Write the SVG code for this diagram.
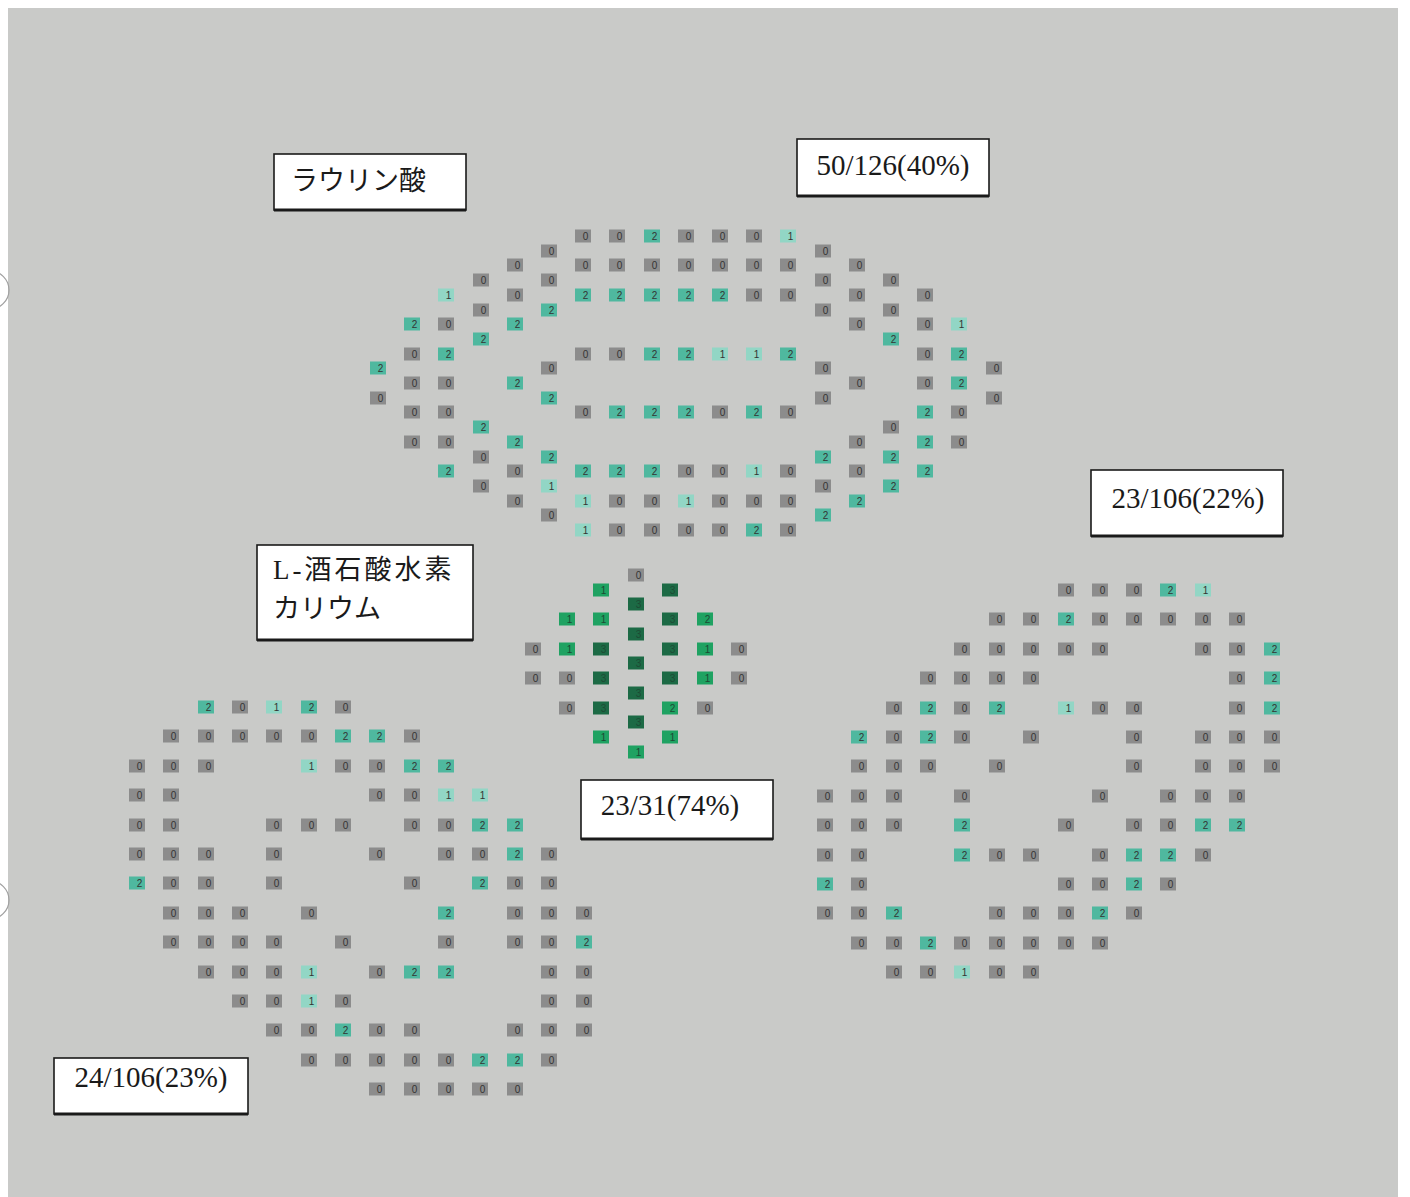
<svg xmlns="http://www.w3.org/2000/svg" xmlns:xlink="http://www.w3.org/1999/xlink" width="1410" height="1197" viewBox="0 0 1410 1197">
<style>
.g{fill:#8c8c8c}.a{fill:#4fb89f}.b{fill:#92d6c5}.m{fill:#1fa262}.d{fill:#1c6a45}
.n{font-family:"Liberation Sans",Arial,sans-serif;font-size:10px;text-anchor:middle;fill:#333}
.nd{font-family:"Liberation Sans",Arial,sans-serif;font-size:10px;text-anchor:middle;fill:#1d4a34}
.lb{fill:#fff;stroke:#1a1a1a;stroke-width:1.6}
.sh{stroke:#1a1a1a;stroke-width:3}
.tx{font-family:"Liberation Serif","Times New Roman",serif;font-size:29px;fill:#1a1a1a}
.jp{font-family:"Liberation Serif","Noto Sans CJK JP",serif;font-size:27px;fill:#1a1a1a}
</style>
<defs>
<g id="z"><rect class="g" x="-8" y="-6.5" width="16" height="13"/><text class="n" x="2.5" y="3.6">0</text></g>
<g id="o"><rect class="b" x="-8" y="-6.5" width="16" height="13"/><text class="n" x="2.5" y="3.6">1</text></g>
<g id="w"><rect class="a" x="-8" y="-6.5" width="16" height="13"/><text class="n" x="2.5" y="3.6">2</text></g>
<g id="p"><rect class="m" x="-8" y="-6.5" width="16" height="13"/><text class="nd" x="2.5" y="3.6">1</text></g>
<g id="q"><rect class="m" x="-8" y="-6.5" width="16" height="13"/><text class="nd" x="2.5" y="3.6">2</text></g>
<g id="k"><rect class="d" x="-8" y="-6.5" width="16" height="13"/><text class="nd" x="2.5" y="3.6">3</text></g>
</defs>
<rect x="0" y="0" width="1410" height="1197" fill="#ffffff"/>
<rect x="8" y="8" width="1390" height="1189" fill="#c9cac8"/>
<circle cx="-10" cy="290" r="19" fill="none" stroke="#a0a0a0" stroke-width="1.2"/>
<circle cx="-10" cy="900" r="19" fill="none" stroke="#a0a0a0" stroke-width="1.2"/>

<g id="cluster-lauric">
<use href="#z" x="583" y="236"/><use href="#z" x="617" y="236"/><use href="#w" x="652" y="236"/><use href="#z" x="686" y="236"/><use href="#z" x="720" y="236"/><use href="#z" x="754" y="236"/><use href="#o" x="788" y="236"/>
<use href="#z" x="549" y="251"/><use href="#z" x="823" y="251"/>
<use href="#z" x="515" y="265"/><use href="#z" x="583" y="265"/><use href="#z" x="617" y="265"/><use href="#z" x="652" y="265"/><use href="#z" x="686" y="265"/><use href="#z" x="720" y="265"/><use href="#z" x="754" y="265"/><use href="#z" x="788" y="265"/><use href="#z" x="857" y="265"/>
<use href="#z" x="481" y="280"/><use href="#z" x="549" y="280"/><use href="#z" x="823" y="280"/><use href="#z" x="891" y="280"/>
<use href="#o" x="446" y="295"/><use href="#z" x="515" y="295"/><use href="#w" x="583" y="295"/><use href="#w" x="617" y="295"/><use href="#w" x="652" y="295"/><use href="#w" x="686" y="295"/><use href="#w" x="720" y="295"/><use href="#z" x="754" y="295"/><use href="#z" x="788" y="295"/><use href="#z" x="857" y="295"/><use href="#z" x="925" y="295"/>
<use href="#z" x="481" y="310"/><use href="#w" x="549" y="310"/><use href="#z" x="823" y="310"/><use href="#z" x="891" y="310"/>
<use href="#w" x="412" y="324"/><use href="#z" x="446" y="324"/><use href="#w" x="515" y="324"/><use href="#z" x="857" y="324"/><use href="#z" x="925" y="324"/><use href="#o" x="959" y="324"/>
<use href="#w" x="481" y="339"/><use href="#w" x="891" y="339"/>
<use href="#z" x="412" y="354"/><use href="#w" x="446" y="354"/><use href="#z" x="583" y="354"/><use href="#z" x="617" y="354"/><use href="#w" x="652" y="354"/><use href="#w" x="686" y="354"/><use href="#o" x="720" y="354"/><use href="#o" x="754" y="354"/><use href="#w" x="788" y="354"/><use href="#z" x="925" y="354"/><use href="#w" x="959" y="354"/>
<use href="#w" x="378" y="368"/><use href="#z" x="549" y="368"/><use href="#z" x="823" y="368"/><use href="#z" x="994" y="368"/>
<use href="#z" x="412" y="383"/><use href="#z" x="446" y="383"/><use href="#w" x="515" y="383"/><use href="#z" x="857" y="383"/><use href="#z" x="925" y="383"/><use href="#w" x="959" y="383"/>
<use href="#z" x="378" y="398"/><use href="#w" x="549" y="398"/><use href="#z" x="823" y="398"/><use href="#z" x="994" y="398"/>
<use href="#z" x="412" y="412"/><use href="#z" x="446" y="412"/><use href="#z" x="583" y="412"/><use href="#w" x="617" y="412"/><use href="#w" x="652" y="412"/><use href="#w" x="686" y="412"/><use href="#z" x="720" y="412"/><use href="#w" x="754" y="412"/><use href="#z" x="788" y="412"/><use href="#w" x="925" y="412"/><use href="#z" x="959" y="412"/>
<use href="#w" x="481" y="427"/><use href="#z" x="891" y="427"/>
<use href="#z" x="412" y="442"/><use href="#z" x="446" y="442"/><use href="#w" x="515" y="442"/><use href="#z" x="857" y="442"/><use href="#w" x="925" y="442"/><use href="#z" x="959" y="442"/>
<use href="#z" x="481" y="457"/><use href="#w" x="549" y="457"/><use href="#w" x="823" y="457"/><use href="#w" x="891" y="457"/>
<use href="#w" x="446" y="471"/><use href="#z" x="515" y="471"/><use href="#w" x="583" y="471"/><use href="#w" x="617" y="471"/><use href="#w" x="652" y="471"/><use href="#z" x="686" y="471"/><use href="#z" x="720" y="471"/><use href="#o" x="754" y="471"/><use href="#z" x="788" y="471"/><use href="#z" x="857" y="471"/><use href="#w" x="925" y="471"/>
<use href="#z" x="481" y="486"/><use href="#o" x="549" y="486"/><use href="#z" x="823" y="486"/><use href="#w" x="891" y="486"/>
<use href="#z" x="515" y="501"/><use href="#o" x="583" y="501"/><use href="#z" x="617" y="501"/><use href="#z" x="652" y="501"/><use href="#o" x="686" y="501"/><use href="#z" x="720" y="501"/><use href="#z" x="754" y="501"/><use href="#z" x="788" y="501"/><use href="#w" x="857" y="501"/>
<use href="#z" x="549" y="515"/><use href="#w" x="823" y="515"/>
<use href="#o" x="583" y="530"/><use href="#z" x="617" y="530"/><use href="#z" x="652" y="530"/><use href="#z" x="686" y="530"/><use href="#z" x="720" y="530"/><use href="#w" x="754" y="530"/><use href="#z" x="788" y="530"/>
</g>

<g id="cluster-tartrate">
<use href="#z" x="636" y="575"/>
<use href="#p" x="601" y="590"/><use href="#k" x="670" y="590"/>
<use href="#k" x="636" y="604"/>
<use href="#p" x="567" y="619"/><use href="#p" x="601" y="619"/><use href="#k" x="670" y="619"/><use href="#q" x="705" y="619"/>
<use href="#k" x="636" y="634"/>
<use href="#z" x="533" y="649"/><use href="#p" x="567" y="649"/><use href="#k" x="601" y="649"/><use href="#k" x="670" y="649"/><use href="#p" x="705" y="649"/><use href="#z" x="739" y="649"/>
<use href="#k" x="636" y="663"/>
<use href="#z" x="533" y="678"/><use href="#z" x="567" y="678"/><use href="#k" x="601" y="678"/><use href="#k" x="670" y="678"/><use href="#p" x="705" y="678"/><use href="#z" x="739" y="678"/>
<use href="#k" x="636" y="693"/>
<use href="#z" x="567" y="708"/><use href="#k" x="601" y="708"/><use href="#q" x="670" y="708"/><use href="#z" x="705" y="708"/>
<use href="#k" x="636" y="722"/>
<use href="#p" x="601" y="737"/><use href="#p" x="670" y="737"/>
<use href="#p" x="636" y="752"/>
</g>

<g id="cluster-left">
<use href="#w" x="206" y="707"/><use href="#z" x="240" y="707"/><use href="#o" x="274" y="707"/><use href="#w" x="309" y="707"/><use href="#z" x="343" y="707"/>
<use href="#z" x="171" y="736"/><use href="#z" x="206" y="736"/><use href="#z" x="240" y="736"/><use href="#z" x="274" y="736"/><use href="#z" x="309" y="736"/><use href="#w" x="343" y="736"/><use href="#w" x="377" y="736"/><use href="#z" x="412" y="736"/>
<use href="#z" x="137" y="766"/><use href="#z" x="171" y="766"/><use href="#z" x="206" y="766"/><use href="#o" x="309" y="766"/><use href="#z" x="343" y="766"/><use href="#z" x="377" y="766"/><use href="#w" x="412" y="766"/><use href="#w" x="446" y="766"/>
<use href="#z" x="137" y="795"/><use href="#z" x="171" y="795"/><use href="#z" x="377" y="795"/><use href="#z" x="412" y="795"/><use href="#o" x="446" y="795"/><use href="#o" x="480" y="795"/>
<use href="#z" x="137" y="825"/><use href="#z" x="171" y="825"/><use href="#z" x="274" y="825"/><use href="#z" x="309" y="825"/><use href="#z" x="343" y="825"/><use href="#z" x="412" y="825"/><use href="#z" x="446" y="825"/><use href="#w" x="480" y="825"/><use href="#w" x="515" y="825"/>
<use href="#z" x="137" y="854"/><use href="#z" x="171" y="854"/><use href="#z" x="206" y="854"/><use href="#z" x="274" y="854"/><use href="#z" x="377" y="854"/><use href="#z" x="446" y="854"/><use href="#z" x="480" y="854"/><use href="#w" x="515" y="854"/><use href="#z" x="549" y="854"/>
<use href="#w" x="137" y="883"/><use href="#z" x="171" y="883"/><use href="#z" x="206" y="883"/><use href="#z" x="274" y="883"/><use href="#z" x="412" y="883"/><use href="#w" x="480" y="883"/><use href="#z" x="515" y="883"/><use href="#z" x="549" y="883"/>
<use href="#z" x="171" y="913"/><use href="#z" x="206" y="913"/><use href="#z" x="240" y="913"/><use href="#z" x="309" y="913"/><use href="#w" x="446" y="913"/><use href="#z" x="515" y="913"/><use href="#z" x="549" y="913"/><use href="#z" x="584" y="913"/>
<use href="#z" x="171" y="942"/><use href="#z" x="206" y="942"/><use href="#z" x="240" y="942"/><use href="#z" x="274" y="942"/><use href="#z" x="343" y="942"/><use href="#z" x="446" y="942"/><use href="#z" x="515" y="942"/><use href="#z" x="549" y="942"/><use href="#w" x="584" y="942"/>
<use href="#z" x="206" y="972"/><use href="#z" x="240" y="972"/><use href="#z" x="274" y="972"/><use href="#o" x="309" y="972"/><use href="#z" x="377" y="972"/><use href="#w" x="412" y="972"/><use href="#w" x="446" y="972"/><use href="#z" x="549" y="972"/><use href="#z" x="584" y="972"/>
<use href="#z" x="240" y="1001"/><use href="#z" x="274" y="1001"/><use href="#o" x="309" y="1001"/><use href="#z" x="343" y="1001"/><use href="#z" x="549" y="1001"/><use href="#z" x="584" y="1001"/>
<use href="#z" x="274" y="1030"/><use href="#z" x="309" y="1030"/><use href="#w" x="343" y="1030"/><use href="#z" x="377" y="1030"/><use href="#z" x="412" y="1030"/><use href="#z" x="515" y="1030"/><use href="#z" x="549" y="1030"/><use href="#z" x="584" y="1030"/>
<use href="#z" x="309" y="1060"/><use href="#z" x="343" y="1060"/><use href="#z" x="377" y="1060"/><use href="#z" x="412" y="1060"/><use href="#z" x="446" y="1060"/><use href="#w" x="480" y="1060"/><use href="#w" x="515" y="1060"/><use href="#z" x="549" y="1060"/>
<use href="#z" x="377" y="1089"/><use href="#z" x="412" y="1089"/><use href="#z" x="446" y="1089"/><use href="#z" x="480" y="1089"/><use href="#z" x="515" y="1089"/>
</g>

<g id="cluster-right">
<use href="#z" x="1066" y="590"/><use href="#z" x="1100" y="590"/><use href="#z" x="1134" y="590"/><use href="#w" x="1168" y="590"/><use href="#o" x="1203" y="590"/>
<use href="#z" x="997" y="619"/><use href="#z" x="1031" y="619"/><use href="#w" x="1066" y="619"/><use href="#z" x="1100" y="619"/><use href="#z" x="1134" y="619"/><use href="#z" x="1168" y="619"/><use href="#z" x="1203" y="619"/><use href="#z" x="1237" y="619"/>
<use href="#z" x="962" y="649"/><use href="#z" x="997" y="649"/><use href="#z" x="1031" y="649"/><use href="#z" x="1066" y="649"/><use href="#z" x="1100" y="649"/><use href="#z" x="1203" y="649"/><use href="#z" x="1237" y="649"/><use href="#w" x="1272" y="649"/>
<use href="#z" x="928" y="678"/><use href="#z" x="962" y="678"/><use href="#z" x="997" y="678"/><use href="#z" x="1031" y="678"/><use href="#z" x="1237" y="678"/><use href="#w" x="1272" y="678"/>
<use href="#z" x="894" y="708"/><use href="#w" x="928" y="708"/><use href="#z" x="962" y="708"/><use href="#w" x="997" y="708"/><use href="#o" x="1066" y="708"/><use href="#z" x="1100" y="708"/><use href="#z" x="1134" y="708"/><use href="#z" x="1237" y="708"/><use href="#w" x="1272" y="708"/>
<use href="#w" x="859" y="737"/><use href="#z" x="894" y="737"/><use href="#w" x="928" y="737"/><use href="#z" x="962" y="737"/><use href="#z" x="1031" y="737"/><use href="#z" x="1134" y="737"/><use href="#z" x="1203" y="737"/><use href="#z" x="1237" y="737"/><use href="#z" x="1272" y="737"/>
<use href="#z" x="859" y="766"/><use href="#z" x="894" y="766"/><use href="#z" x="928" y="766"/><use href="#z" x="997" y="766"/><use href="#z" x="1134" y="766"/><use href="#z" x="1203" y="766"/><use href="#z" x="1237" y="766"/><use href="#z" x="1272" y="766"/>
<use href="#z" x="825" y="796"/><use href="#z" x="859" y="796"/><use href="#z" x="894" y="796"/><use href="#z" x="962" y="796"/><use href="#z" x="1100" y="796"/><use href="#z" x="1168" y="796"/><use href="#z" x="1203" y="796"/><use href="#z" x="1237" y="796"/>
<use href="#z" x="825" y="825"/><use href="#z" x="859" y="825"/><use href="#z" x="894" y="825"/><use href="#w" x="962" y="825"/><use href="#z" x="1066" y="825"/><use href="#z" x="1134" y="825"/><use href="#z" x="1168" y="825"/><use href="#w" x="1203" y="825"/><use href="#w" x="1237" y="825"/>
<use href="#z" x="825" y="855"/><use href="#z" x="859" y="855"/><use href="#w" x="962" y="855"/><use href="#z" x="997" y="855"/><use href="#z" x="1031" y="855"/><use href="#z" x="1100" y="855"/><use href="#w" x="1134" y="855"/><use href="#w" x="1168" y="855"/><use href="#z" x="1203" y="855"/>
<use href="#w" x="825" y="884"/><use href="#z" x="859" y="884"/><use href="#z" x="1066" y="884"/><use href="#z" x="1100" y="884"/><use href="#w" x="1134" y="884"/><use href="#z" x="1168" y="884"/>
<use href="#z" x="825" y="913"/><use href="#z" x="859" y="913"/><use href="#w" x="894" y="913"/><use href="#z" x="997" y="913"/><use href="#z" x="1031" y="913"/><use href="#z" x="1066" y="913"/><use href="#w" x="1100" y="913"/><use href="#z" x="1134" y="913"/>
<use href="#z" x="859" y="943"/><use href="#z" x="894" y="943"/><use href="#w" x="928" y="943"/><use href="#z" x="962" y="943"/><use href="#z" x="997" y="943"/><use href="#z" x="1031" y="943"/><use href="#z" x="1066" y="943"/><use href="#z" x="1100" y="943"/>
<use href="#z" x="894" y="972"/><use href="#z" x="928" y="972"/><use href="#o" x="962" y="972"/><use href="#z" x="997" y="972"/><use href="#z" x="1031" y="972"/>
</g>

<g id="label-lauric">
<rect class="lb" x="274" y="154" width="192" height="56"/><line class="sh" x1="274" y1="210" x2="466" y2="210"/>
<text class="jp" x="291" y="190">ラウリン酸</text>
</g>
<g id="label-lauric-ratio">
<rect class="lb" x="797" y="139" width="192" height="57"/><line class="sh" x1="797" y1="196" x2="989" y2="196"/>
<text class="tx" x="893" y="175" text-anchor="middle">50/126(40%)</text>
</g>
<g id="label-right-ratio">
<rect class="lb" x="1091" y="470" width="192" height="66"/><line class="sh" x1="1091" y1="536" x2="1283" y2="536"/>
<text class="tx" x="1188" y="508" text-anchor="middle">23/106(22%)</text>
</g>
<g id="label-tartrate">
<rect class="lb" x="257" y="545" width="216" height="95"/><line class="sh" x1="257" y1="640" x2="473" y2="640"/>
<text class="jp" x="273" y="579" letter-spacing="3">L-酒石酸水素</text>
<text class="jp" x="273" y="618">カリウム</text>
</g>
<g id="label-tartrate-ratio">
<rect class="lb" x="581" y="780" width="192" height="59"/><line class="sh" x1="581" y1="839" x2="773" y2="839"/>
<text class="tx" x="670" y="815" text-anchor="middle">23/31(74%)</text>
</g>
<g id="label-left-ratio">
<rect class="lb" x="54" y="1058" width="194" height="56"/><line class="sh" x1="54" y1="1114" x2="248" y2="1114"/>
<text class="tx" x="151" y="1087" text-anchor="middle">24/106(23%)</text>
</g>
</svg>
